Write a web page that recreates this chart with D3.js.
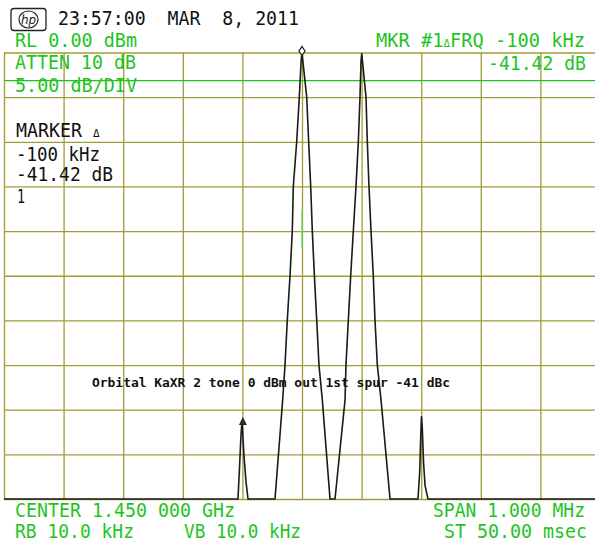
<!DOCTYPE html>
<html>
<head>
<meta charset="utf-8">
<script src="https://cdn.jsdelivr.net/npm/d3@7"></script>
<style>
  html, body { margin: 0; padding: 0; background: #ffffff; }
  svg { display: block; }
</style>
</head>
<body>
<svg id="chart" width="595" height="543"></svg>
<script>
// ---- Data (frequency offset from center in kHz, level in dBm) ----
const centerGHz = 1.450;
const spanKHz = 1000;
const refLevel = 0;          // dBm
const dbPerDiv = 5;
const xGridTicks = [-500, -400, -300, -200, -100, 0, 100, 200, 300, 400, 500];
const yGridTicks = [-50, -45, -40, -35, -30, -25, -20, -15, -10, -5, 0];
const displayLineDb = -3.16;

const traceKHz = [
  -500, -107.4, -104.5, -102.5, -101.2, -100.5, -99.2, -97, -94, -90.6,
  -45.3, -32.4, -28.5, -24.7, -20.1, -16.3, -14.6, -8.9, -4.5, -1.5, 0,
  1.5, 7.9, 11.2, 14.6, 17.3, 20.8, 24.7, 28.5, 34.1, 47,
  55.4, 72.2, 73.8, 77.7, 81.7, 86.1, 90.6, 94.5, 97.3, 99, 100.2,
  101.5, 107.4, 109.6, 112.4, 115.8, 119.6, 122.5, 126.4, 132.6, 147.7,
  194.6, 197.5, 199.2, 200.5, 201.8, 204, 206.5, 211.4,
  500
];
const traceDb = [
  -50, -50, -46, -43, -41.8, -41.42, -43, -45.5, -48, -50,
  -50, -38.9, -35, -30, -25, -20, -15, -10, -5, -1, 0,
  -1, -5, -10, -15, -20, -25, -30, -35, -38.9, -50,
  -50, -38.9, -35, -30, -25, -20, -15, -10, -5, -1, -0.15,
  -1, -5, -10, -15, -20, -25, -30, -35, -38.9, -50,
  -50, -47, -43, -40.8, -42, -46, -48.5, -50,
  -50
];

const refMarker = { kHz: 0, db: 0 };
const deltaMarker = { kHz: -100, db: -41.42 };

const headerText = "23:57:00  MAR  8, 2011";
const greenTexts = [
  { t: "RL 0.00 dBm", x: 15, y: 47, w: 122 },
  { t: "ATTEN 10 dB", x: 15, y: 69, w: 121 },
  { t: "5.00 dB/DIV", x: 15, y: 92, w: 122 },
  { t: "-41.42 dB", x: 488, y: 70, w: 98 },
  { t: "CENTER 1.450 000 GHz", x: 15, y: 517, w: 220 },
  { t: "RB 10.0 kHz", x: 15, y: 538, w: 119 },
  { t: "VB 10.0 kHz", x: 184, y: 538, w: 117 },
  { t: "SPAN 1.000 MHz", x: 433, y: 517, w: 152 },
  { t: "ST 50.00 msec", x: 444, y: 538, w: 143 }
];
const blackTexts = [
  { t: "-100 kHz", x: 16, y: 161, w: 84 },
  { t: "-41.42 dB", x: 16, y: 181, w: 97 },
  { t: "1", x: 17, y: 203, w: 8 }
];
const annotation = "Orbital KaXR 2 tone 0 dBm out 1st spur -41 dBc";

// ---- Drawing ----
const svg = d3.select("#chart");
const FONT = "'DejaVu Sans Mono', 'Liberation Mono', monospace";
const GREEN = "#1fc41f";
const GRID = "#a29c34";

const x = d3.scaleLinear().domain([-spanKHz / 2, spanKHz / 2]).range([4, 600]);
const y = d3.scaleLinear().domain([refLevel - 10 * dbPerDiv, refLevel]).range([499, 52.5]);

// grid via axes
const gGridX = svg.append("g").attr("transform", `translate(0,${y(refLevel - 10 * dbPerDiv)})`)
  .call(d3.axisBottom(x).tickValues(xGridTicks).tickSize(-(y(-50) - y(0))).tickFormat(""));
const gGridY = svg.append("g").attr("transform", `translate(${x(-500)},0)`)
  .call(d3.axisLeft(y).tickValues(yGridTicks).tickSize(-(x(500) - x(-500))).tickFormat(""));
[gGridX, gGridY].forEach(g => {
  g.select(".domain").remove();
  g.selectAll(".tick line").attr("stroke", GRID).attr("stroke-width", 1.3);
});

// display line
svg.append("line")
  .attr("x1", x(-500)).attr("x2", x(500))
  .attr("y1", y(displayLineDb)).attr("y2", y(displayLineDb))
  .attr("stroke", GREEN).attr("stroke-width", 1.3);

// small green marker segment
svg.append("line")
  .attr("x1", x(0)).attr("x2", x(0))
  .attr("y1", 211).attr("y2", 248)
  .attr("stroke", "#5cd95c").attr("stroke-width", 1.3);

// trace
const pts = traceKHz.map((k, i) => [k, traceDb[i]]);
const line = d3.line().x(d => x(d[0])).y(d => y(d[1]));
svg.append("path")
  .attr("d", line(pts))
  .attr("fill", "none")
  .attr("stroke", "#1a1a1a")
  .attr("stroke-width", 1.6)
  .attr("stroke-linejoin", "round");

// reference marker (diamond)
{
  const cx = x(refMarker.kHz), cy = y(refMarker.db) - 1.5;
  svg.append("path")
    .attr("d", `M${cx},${cy - 4.5}L${cx + 3},${cy}L${cx},${cy + 4.5}L${cx - 3},${cy}Z`)
    .attr("fill", "#fff").attr("stroke", "#222").attr("stroke-width", 1.3);
}
// delta marker
{
  const cx = x(deltaMarker.kHz) + 0.5, cy = y(deltaMarker.db);
  svg.append("path")
    .attr("d", `M${cx},${cy - 4}L${cx + 3},${cy + 2}L${cx - 3},${cy + 2}Z`)
    .attr("fill", "#333").attr("stroke", "#222").attr("stroke-width", 1.2);
}

// annotation
svg.append("text")
  .attr("x", 92).attr("y", 387)
  .attr("font-family", FONT).attr("font-weight", "bold").attr("font-size", 13)
  .attr("textLength", 358).attr("lengthAdjust", "spacingAndGlyphs")
  .attr("fill", "#111")
  .text(annotation);

// hp logo
const logo = svg.append("g");
logo.append("rect").attr("x", 11).attr("y", 8.5).attr("width", 35).attr("height", 22).attr("rx", 3)
  .attr("fill", "none").attr("stroke", "#222").attr("stroke-width", 1.3);
logo.append("ellipse").attr("cx", 28.5).attr("cy", 19.5).attr("rx", 9.5).attr("ry", 8.5)
  .attr("fill", "none").attr("stroke", "#222").attr("stroke-width", 1.2);
logo.append("text").attr("x", 28.5).attr("y", 24).attr("text-anchor", "middle")
  .attr("font-family", "'DejaVu Sans', sans-serif").attr("font-style", "italic")
  .attr("font-size", 12).attr("fill", "#222").text("hp");

// header
svg.append("text")
  .attr("x", 58).attr("y", 24.5)
  .attr("font-family", FONT).attr("font-size", 19)
  .attr("textLength", 241).attr("lengthAdjust", "spacingAndGlyphs")
  .attr("fill", "#111")
  .style("white-space", "pre")
  .text(headerText);

function addText(d, color) {
  svg.append("text")
    .attr("x", d.x).attr("y", d.y)
    .attr("font-family", FONT).attr("font-size", 19)
    .attr("textLength", d.w).attr("lengthAdjust", "spacingAndGlyphs")
    .attr("fill", color)
    .style("white-space", "pre")
    .text(d.t);
}
greenTexts.forEach(d => addText(d, GREEN));
blackTexts.forEach(d => addText(d, "#111"));

// MKR #1ΔFRQ -100 kHz (green, with small delta)
{
  const t = svg.append("text")
    .attr("x", 376).attr("y", 47)
    .attr("font-family", FONT).attr("font-size", 19)
    .attr("textLength", 209).attr("lengthAdjust", "spacingAndGlyphs")
    .attr("fill", GREEN).style("white-space", "pre");
  t.append("tspan").text("MKR #1");
  t.append("tspan").attr("font-size", 11).text("Δ");
  t.append("tspan").text("FRQ -100 kHz");
}
// MARKER Δ (black)
{
  const t = svg.append("text")
    .attr("x", 16).attr("y", 137)
    .attr("font-family", FONT).attr("font-size", 19)
    .attr("fill", "#111").style("white-space", "pre");
  t.append("tspan").attr("textLength", 66).attr("lengthAdjust", "spacingAndGlyphs").text("MARKER");
  t.append("tspan").attr("x", 93).attr("font-size", 11).text("Δ");
}
</script>
</body>
</html>
